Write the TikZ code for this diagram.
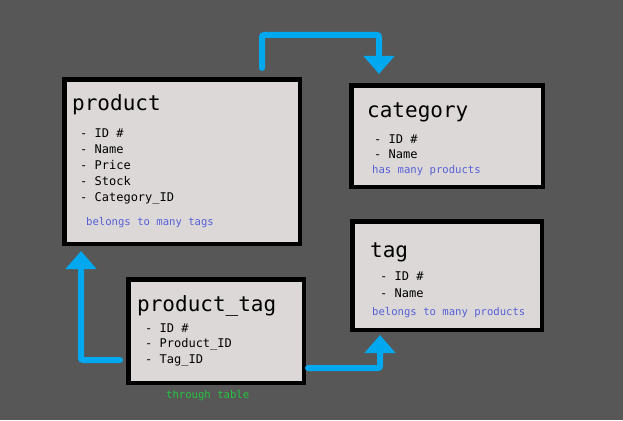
\documentclass[tikz,border=0pt]{standalone}
\usepackage{fontspec}
\newfontfamily\tablefont{DejaVu Sans Mono}
\usetikzlibrary{arrows.meta}
\definecolor{bggray}{RGB}{87,87,87}
\definecolor{boxfill}{RGB}{221,216,216}
\definecolor{linkblue}{RGB}{0,168,240}
\definecolor{noteblue}{RGB}{84,96,214}
\definecolor{notegreen}{RGB}{38,196,64}
\tikzset{
  tablebox/.style={rectangle, draw=black, line width=4.5pt, fill=boxfill},
  tabletitle/.style={anchor=base west, inner sep=0pt, font=\tablefont\fontsize{21}{21}\selectfont},
  fields/.style={anchor=base west, inner sep=0pt, align=left, font=\tablefont\fontsize{12}{16}\selectfont},
  note/.style={anchor=base west, inner sep=0pt, font=\tablefont\fontsize{10.6}{12}\selectfont},
  link/.style={draw=linkblue, line width=6pt, line cap=round, rounded corners=2pt, -{Triangle[width=30pt,length=18pt]}}
}
\begin{document}
\begin{tikzpicture}[x=1pt,y=-1pt]
        \fill[bggray] (0,0) rectangle (623,420);
        \useasboundingbox (0,0) rectangle (623,420);

        % tables (field lists placed by their last line)
        \node at (182,161.5) [tablebox, minimum width=235.5pt, minimum height=164.5pt] (product) {};
        \node at (72,110) [tabletitle] (product_title) {product};
        \node at (80,201) [fields] (product_fields) {- ID \#\\- Name\\- Price\\- Stock\\- Category\_ID};
        \node at (86,225) [note, text=noteblue] (product_note) {belongs to many tags};

        \node at (447,136) [tablebox, minimum width=191.5pt, minimum height=101.5pt] (category) {};
        \node at (367,117) [tabletitle] (category_title) {category};
        \node at (374,158) [fields, font=\tablefont\fontsize{12}{15}\selectfont] (category_fields) {- ID \#\\- Name};
        \node at (372,173) [note, text=noteblue] (category_note) {has many products};

        \node at (447,275.5) [tablebox, minimum width=189.5pt, minimum height=108.5pt] (tag) {};
        \node at (370,257) [tabletitle] (tag_title) {tag};
        \node at (380,297) [fields, font=\tablefont\fontsize{12}{17}\selectfont] (tag_fields) {- ID \#\\- Name};
        \node at (372,315) [note, text=noteblue] (tag_note) {belongs to many products};

        \node at (216,331) [tablebox, minimum width=175.5pt, minimum height=103.5pt] (product_tag) {};
        \node at (137,311) [tabletitle] (product_tag_title) {product\_tag};
        \node at (145,363) [fields, font=\tablefont\fontsize{12}{15.5}\selectfont] (product_tag_fields) {- ID \#\\- Product\_ID\\- Tag\_ID};
        \node at (166,398) [note, text=notegreen] (product_tag_note) {through table};

        % relations
        \draw[link] ([xshift=-40pt,yshift=9pt]product.north east) -- ++(0,-33) -| ([xshift=30pt,yshift=9pt]category.north west);
        \draw[link] ([xshift=-6pt,yshift=-29pt]product_tag.west) -| ([xshift=19pt,yshift=-5pt]product.south west);
        \draw[link] ([xshift=2pt,yshift=-37pt]product_tag.east) -| ([xshift=30pt,yshift=-3pt]tag.south west);
\end{tikzpicture}
\end{document}
